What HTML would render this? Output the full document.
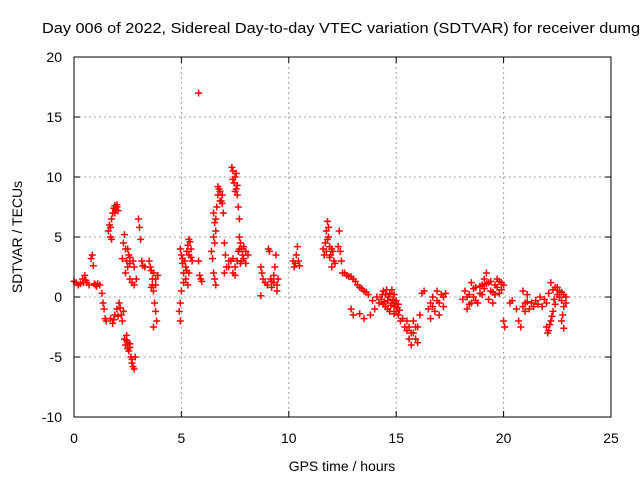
<!DOCTYPE html>
<html><head><meta charset="utf-8"><style>
body{margin:0;background:#fff}
svg{display:block;font-family:"Liberation Sans",sans-serif}
</style></head><body>
<svg id="chart" width="640" height="480">
<text x="42" y="33" font-size="15" textLength="598" lengthAdjust="spacingAndGlyphs">Day 006 of 2022, Sidereal Day-to-day VTEC variation (SDTVAR) for receiver dumg</text>
<g id="grid"></g><g id="axes"></g><g id="marks"></g>
<rect x="74" y="57" width="537" height="360" fill="none" stroke="#000" stroke-width="1"/>
<text x="342" y="471" font-size="14" text-anchor="middle">GPS time / hours</text>
<text transform="translate(22,237) rotate(-90)" font-size="14" text-anchor="middle">SDTVAR / TECUs</text>
</svg>
<script>
const xTicks=[0,5,10,15,20,25];
const yTicks=[-10,-5,0,5,10,15,20];
const samples=[
[0,1.3],[0.1,1.2],[0.2,1.0],[0.3,1.1],[0.4,1.5],[0.45,1.2],[0.5,1.8],[0.55,1.4],[0.6,1.2],[0.7,1.0],[0.8,3.2],[0.85,3.5],[0.9,2.6],[0.95,1.1],[1.0,1.0],[1.05,0.9],[1.1,1.1],[1.2,1.0],
[1.3,0.3],[1.35,-0.5],[1.4,-1.0],[1.45,-1.8],[1.5,-2.0],[1.6,5.5],[1.65,6.0],[1.7,5.0],[1.75,6.5],[1.8,7.0],[1.85,7.4],[1.9,7.6],[1.95,7.3],[2.0,7.5],[2.05,7.2],[1.9,7.0],[2.0,7.7],[1.7,5.8],[1.75,4.8],
[1.7,-1.8],[1.8,-2.2],[1.9,-1.5],[2.0,-1.0],[2.1,-0.5],[2.2,-1.5],[2.3,-1.2],[1.85,-1.9],[2.05,-1.6],[2.15,-0.9],[2.25,-2.0],
[2.25,3.2],[2.3,4.5],[2.35,5.2],[2.4,4.0],[2.45,3.0],[2.5,2.5],[2.55,3.5],[2.6,2.8],[2.35,-3.5],[2.4,-4.0],[2.45,-3.2],[2.5,-3.8],[2.55,-4.5],[2.6,-4.2],[2.65,-5.0],[2.7,-5.5],[2.8,-6.0],[2.85,-5.0],[2.45,-3.6],[2.5,-4.3],[2.6,-3.9],[2.7,-5.2],[2.75,-5.8],
[2.4,2.0],[2.6,1.5],[2.7,1.2],[2.8,1.0],[2.9,1.5],[2.8,2.5],[2.75,3.0],[2.6,3.3],[2.5,4.0],
[3.0,6.5],[3.05,5.8],[3.1,4.8],[3.15,3.0],[3.2,2.6],[3.3,2.5],[3.5,3.0],[3.6,2.2],[3.65,1.5],[3.7,0.5],[3.75,-0.5],[3.8,-1.2],[3.85,-2.0],[3.7,-2.5],[3.6,0.8],[3.7,2.0],[3.8,1.0],[3.9,1.8],[3.55,2.5],[3.65,1.0],[3.8,1.5],
[4.95,4.0],[5.0,3.5],[5.05,2.8],[5.1,2.0],[5.0,0.5],[4.95,-0.5],[4.9,-1.2],[4.95,-2.0],[5.15,3.0],[5.2,2.5],[5.25,3.8],[5.3,4.3],[5.35,3.5],[5.4,4.6],[5.45,4.0],[5.5,3.0],[5.35,2.0],[5.2,1.5],[5.1,1.2],[5.3,1.0],[5.05,3.2],[5.25,2.2],[5.35,4.8],[5.45,3.3],
[5.8,17.0],[5.9,1.5],[5.95,1.3],[5.8,3.0],[5.85,1.8],
[6.4,3.8],[6.45,3.2],[6.5,2.0],[6.55,1.5],[6.6,1.0],[6.5,7.0],[6.55,6.2],[6.6,5.5],[6.65,7.5],[6.7,8.5],[6.75,9.0],[6.8,8.8],[6.85,8.0],[6.9,7.8],[6.95,7.0],[7.0,4.5],[7.05,3.5],[7.1,2.5],[7.0,2.0],[7.2,3.0],[6.7,9.2],[6.8,8.0],[6.9,8.5],[6.6,6.5],[6.5,5.0],[6.55,4.5],
[7.35,10.8],[7.4,10.5],[7.45,9.5],[7.5,10.0],[7.55,9.0],[7.6,8.5],[7.65,7.5],[7.7,6.5],[7.7,5.0],[7.75,4.5],[7.8,4.0],[7.85,3.5],[7.9,3.2],[8.0,2.8],[8.1,3.5],[7.6,3.0],[7.5,2.5],[7.4,3.2],[7.3,3.0],[7.2,2.5],[7.5,1.8],[7.4,2.0],[7.4,9.8],[7.5,8.8],[7.55,10.3],[7.6,9.3],[7.7,4.0],[7.8,3.0],[7.9,4.2],[8.0,3.8],[7.75,2.8],[7.65,3.8],
[8.7,2.5],[8.75,2.0],[8.8,1.5],[8.7,0.1],[8.9,1.2],[9.0,1.0],[9.05,4.0],[9.1,3.8],[9.15,1.5],[9.2,0.8],[9.3,1.2],[9.35,2.5],[9.4,3.5],[9.45,1.0],[9.5,1.5],[9.45,0.5],[9.3,1.8],[9.2,1.3],
[10.2,3.0],[10.25,2.5],[10.3,2.8],[10.35,3.5],[10.4,4.2],[10.45,3.0],[10.5,2.6],
[11.6,4.0],[11.65,3.5],[11.7,4.5],[11.75,5.5],[11.8,6.3],[11.85,5.0],[11.9,4.2],[11.95,3.5],[12.0,2.5],[12.05,3.8],[12.1,3.0],[12.15,2.8],[12.3,4.2],[12.35,5.5],[12.4,3.8],[12.45,3.0],[11.8,4.8],[11.9,3.3],[11.75,3.8],[11.85,5.8],[12.0,4.0],
[12.5,2.0],[12.7,1.8],[12.9,1.7],[13.1,1.3],[13.3,0.8],[13.5,0.5],[13.7,0.2],[13.9,-0.3],[14.1,0.0],[12.6,2.0],[12.8,1.7],[13.0,1.5],[13.2,1.0],[13.4,0.7],[13.6,0.4],[12.9,-1.0],[13.0,-1.5],[13.3,-1.4],[13.5,-1.8],[13.8,-1.5],[14.0,-1.0],[14.2,-0.5],
[14.3,-0.2],[14.4,0.5],[14.5,0.2],[14.6,-0.3],[14.7,0.3],[14.8,-0.5],[14.9,-0.8],[15.0,-1.2],[15.1,-1.5],[14.5,-0.8],[14.6,-1.0],[14.8,0.6],[14.9,0.2],[15.0,-0.3],[15.2,-2.0],[15.3,-1.8],[15.4,-2.5],
[14.35,0.2],[14.45,-0.4],[14.55,0.6],[14.65,0.0],[14.75,-0.7],[14.85,-0.2],[14.95,-0.5],[15.05,-0.9],[15.15,-1.1],[14.4,-0.6],[14.7,-1.2],[14.9,-1.4],[15.1,-0.6],
[15.5,-2.8],[15.6,-3.5],[15.7,-4.0],[15.8,-3.0],[15.9,-3.5],[16.0,-3.8],[15.6,-2.5],[15.8,-2.0],[16.0,-2.5],[16.1,-1.5],[16.2,0.3],[16.3,0.5],[15.7,-3.0],[15.9,-2.5],[15.5,-2.0],
[16.5,-1.0],[16.6,-0.5],[16.7,0.0],[16.8,-1.2],[16.9,0.5],[17.0,-0.5],[17.1,0.2],[17.2,-0.8],[17.3,0.3],[16.6,-1.8],[17.0,-1.5],[16.7,-0.8],[16.9,-0.3],[17.2,0.0],
[18.1,-0.2],[18.2,0.5],[18.3,-1.0],[18.4,0.2],[18.5,1.2],[18.6,0.0],[18.7,0.8],[18.8,-0.5],[18.9,0.3],[19.0,1.0],[19.1,1.5],[19.2,2.0],[19.3,1.2],[19.4,0.5],[19.5,-0.5],[19.6,1.0],[19.7,0.8],[19.8,1.3],[19.9,0.6],[20.0,1.0],[19.3,-0.2],[18.5,-0.5],
[18.3,0.0],[18.4,-0.6],[18.6,0.7],[18.7,-0.3],[18.9,0.9],[19.0,0.2],[19.1,0.7],[19.2,1.1],[19.4,1.3],[19.5,0.4],[19.6,0.2],[19.7,1.5],[19.8,0.3],[19.9,1.2],
[20.0,-2.0],[20.05,-2.5],
[20.3,-0.5],[20.4,-0.3],[20.6,-1.0],[20.7,-2.0],[20.8,-2.5],[20.9,0.5],[21.0,-0.5],[21.1,0.2],[21.2,-1.0],[21.4,-0.8],[21.5,-0.3],[21.7,0.0],[21.8,-0.8],[22.0,-2.5],[22.05,-3.0],[22.1,-2.8],[22.2,-2.0],[22.3,-1.2],[22.4,-0.6],[22.5,0.2],[22.2,1.2],[22.3,0.6],[22.4,0.8],[22.6,0.0],[22.7,-0.3],[22.8,0.2],[22.9,-0.5],[22.7,-2.0],[22.8,-2.6],
[20.9,-0.8],[21.0,-1.2],[21.1,-0.4],[21.3,-0.5],[21.6,-0.6],[21.9,-0.2],[22.0,-0.5],[22.1,0.3],[22.15,-2.3],[22.25,-1.6],[22.35,-0.2],[22.5,0.8],[22.6,0.5],[22.7,0.4],[22.8,-0.8],[22.9,0.0],[22.75,-1.5]
];
const NS='http://www.w3.org/2000/svg';
const X0=74,X1=611,Y0=417,Y1=57;
function xs(v){return X0+(v-0)/(25-0)*(X1-X0);}
function ys(v){return Y0-(v+10)/30*(Y0-Y1);}
function mk(tag,at,parent){const e=document.createElementNS(NS,tag);for(const k in at)e.setAttribute(k,at[k]);parent.appendChild(e);return e;}
const grid=document.getElementById('grid'),axes=document.getElementById('axes'),marks=document.getElementById('marks');
xTicks.forEach(t=>{const x=xs(t);
 if(t>0&&t<25){const g=mk('line',{x1:x,x2:x,y1:Y1,y2:Y0,stroke:'#a0a0a0','stroke-dasharray':'2,3'},grid);
 
 }
 mk('line',{x1:x,x2:x,y1:Y0,y2:Y0-6,stroke:'#000'},axes);mk('line',{x1:x,x2:x,y1:Y1,y2:Y1+6,stroke:'#000'},axes);
 const l=mk('text',{x:x,y:443,'font-size':14,'text-anchor':'middle'},axes);l.textContent=t;
 
 });
yTicks.forEach(t=>{const y=ys(t);
 if(t>-10&&t<20){const g=mk('line',{x1:X0,x2:X1,y1:y,y2:y,stroke:'#a0a0a0','stroke-dasharray':'2,3'},grid);
 
 }
 mk('line',{x1:X0,x2:X0+6,y1:y,y2:y,stroke:'#000'},axes);mk('line',{x1:X1,x2:X1-6,y1:y,y2:y,stroke:'#000'},axes);
 const l=mk('text',{x:62,y:y+5,'font-size':14,'text-anchor':'end'},axes);l.textContent=t;
 
 });
samples.forEach(p=>{const x=xs(p[0]),y=ys(p[1]);
 const m=mk('path',{d:`M${x-3.5},${y}H${x+3.5}M${x},${y-3.5}V${y+3.5}`,stroke:'#ff0000','stroke-width':1.5,fill:'none'},marks);
 
 });
</script>
</body></html>
